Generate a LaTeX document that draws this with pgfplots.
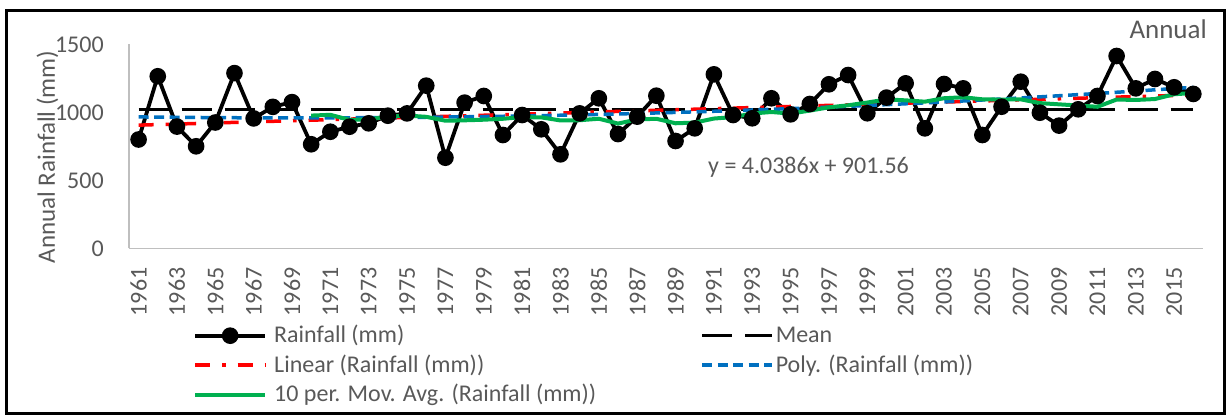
\documentclass[border=0pt]{standalone}
\usepackage{fontspec}
\setmainfont{Carlito}
\usepackage{pgfplots}
\pgfplotsset{compat=1.18}
\usepackage{pgfplotstable}
\definecolor{txt}{RGB}{89,89,89}
\definecolor{axisgray}{RGB}{191,191,191}
\definecolor{tred}{RGB}{255,0,0}
\definecolor{tblue}{RGB}{0,112,192}
\definecolor{tgreen}{RGB}{0,176,80}

\pgfplotstableread{
year rain
1961 800
1962 1265
1963 895
1964 750
1965 925
1966 1288
1967 955
1968 1040
1969 1075
1970 765
1971 857
1972 894
1973 919
1974 975
1975 992
1976 1196
1977 666
1978 1071
1979 1120
1980 833
1981 980
1982 875
1983 691
1984 992
1985 1103
1986 840
1987 968
1988 1122
1989 789
1990 882
1991 1279
1992 980
1993 956
1994 1103
1995 985
1996 1061
1997 1206
1998 1274
1999 993
2000 1108
2001 1213
2002 882
2003 1208
2004 1176
2005 833
2006 1041
2007 1225
2008 997
2009 902
2010 1022
2011 1120
2012 1414
2013 1176
2014 1245
2015 1184
2016 1135
}\raindata

\pgfplotstableread{
year ma
1970 975.8
1971 981.5
1972 944.4
1973 946.8
1974 969.3
1975 976.0
1976 966.8
1977 937.9
1978 941.0
1979 945.5
1980 952.3
1981 964.6
1982 962.7
1983 939.9
1984 941.6
1985 952.7
1986 917.1
1987 947.3
1988 952.4
1989 919.3
1990 924.2
1991 954.1
1992 964.6
1993 991.1
1994 1002.2
1995 990.4
1996 1012.5
1997 1036.3
1998 1051.5
1999 1071.9
2000 1094.5
2001 1087.9
2002 1078.1
2003 1103.3
2004 1110.6
2005 1095.4
2006 1093.4
2007 1095.3
2008 1067.6
2009 1058.5
2010 1049.9
2011 1040.6
2012 1093.8
2013 1090.6
2014 1097.5
2015 1132.6
2016 1142.0
}\madata

\pgfplotstableread{
year poly
1961 966.0
1966 960.0
1971 959.2
1976 963.6
1981 973.1
1986 987.7
1991 1007.6
1996 1032.5
2001 1062.6
2006 1097.9
2011 1138.4
2016 1183.9
}\polydata

\begin{document}
\begin{tikzpicture}
\useasboundingbox (-129pt,-168.7pt) rectangle (1098pt,248.3pt);
\draw[line width=3pt] (-122.5pt,-165.7pt) rectangle (1095pt,237.3pt);
\begin{axis}[
  at={(0pt,0pt)}, anchor=south west,
  scale only axis, width=1074pt, height=204pt,
  xmin=1960.5, xmax=2016.5, ymin=0, ymax=1500,
  xtick={1961,1963,...,2015}, ytick={0,500,1000,1500},
  axis x line=bottom, axis y line=left,
  axis line style={-, draw=axisgray, line width=1.3pt},
  tick style={draw=none},
  font=\fontsize{24}{28}\selectfont,
  ticklabel style={text=txt, font=\fontsize{24}{28}\selectfont},
  /pgf/number format/assume math mode=true,
  /pgf/number format/1000 sep={},
  xticklabel style={rotate=90, anchor=east, inner sep=0pt},
  xticklabel shift=17pt,
  yticklabel style={anchor=east, inner sep=0pt},
  yticklabel shift=23pt,
  legend columns=2,
  legend cell align=left,
  legend style={at={(axis description cs:0.05959,-0.3735)}, anchor=north west,
    draw=none, fill=none, inner sep=0pt, row sep=7.5pt,
    nodes={inner sep=0pt, text height=18pt, text depth=4pt, text=txt, font=\fontsize{24}{28}\selectfont},
    /tikz/column 1/.style={column sep=7pt},
    /tikz/column 2/.style={column sep=104pt},
    /tikz/column 3/.style={column sep=2pt}},
  legend image code/.code={\draw[mark repeat=2,mark phase=2,#1] plot coordinates {(0pt,0pt) (35pt,0pt) (70pt,0pt)};},
]
\addplot[black, line width=3.8pt, mark=*, mark size=6.4pt, mark options={solid}] table[x=year,y=rain]{\raindata};
\addlegendentry{Rainfall (mm)}
\addplot[black, line width=3.5pt, dash pattern=on 30pt off 13pt] coordinates {(1961,1022) (2016,1022)};
\addlegendentry{Mean}
\addplot[tred, line width=3.5pt, dash pattern=on 15pt off 12pt on 3.5pt off 12pt] coordinates {(1961,905.6) (2016,1127.7)};
\addlegendentry{Linear (Rainfall (mm))}
\addplot[tblue, line width=3.5pt, dash pattern=on 10pt off 5.5pt, smooth] table[x=year,y=poly]{\polydata};
\addlegendentry{Poly. (Rainfall (mm))}
\addplot[tgreen, line width=4pt] table[x=year,y=ma]{\madata};
\addlegendentry{10 per. Mov. Avg. (Rainfall (mm))}
\end{axis}
\node[text=txt, font=\fontsize{25}{30}\selectfont, rotate=90] at (-81.5pt,91.3pt) {Annual Rainfall (mm)};
\node[text=txt, font=\fontsize{27}{32}\selectfont, anchor=base east, inner sep=0pt] at (1078pt,210pt) {Annual};
\node[text=txt, font=\fontsize{24}{28}\selectfont, anchor=base west, inner sep=0pt] at (579pt,75pt) {y = 4.0386x + 901.56};
\end{tikzpicture}
\end{document}
